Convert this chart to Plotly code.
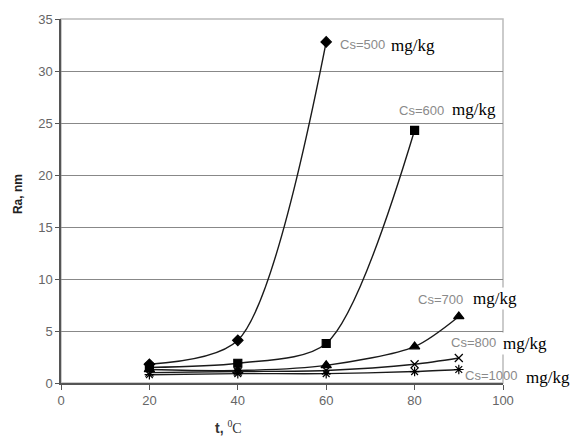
import plotly.graph_objects as go

t500 = [20, 40, 60]
ra500 = [1.8, 4.1, 32.8]
t600 = [20, 40, 60, 80]
ra600 = [1.5, 1.9, 3.8, 24.3]
t700 = [20, 40, 60, 80, 90]
ra700 = [1.3, 1.2, 1.7, 3.5, 6.4]
t800 = [20, 40, 60, 80, 90]
ra800 = [1.0, 1.1, 1.2, 1.8, 2.4]
t1000 = [20, 40, 60, 80, 90]
ra1000 = [0.8, 0.9, 0.9, 1.1, 1.3]

labels = ["Cs=500", "Cs=600", "Cs=700", "Cs=800", "Cs=1000"]
unit = "mg/kg"

series = [
    (t500, ra500, "diamond", 8),
    (t600, ra600, "square", 8),
    (t700, ra700, "triangle-up", 9),
    (t800, ra800, "x-thin-open", 8),
    (t1000, ra1000, "asterisk-open", 8),
]

fig = go.Figure()
for (x, y, sym, sz), name in zip(series, labels):
    fig.add_trace(go.Scatter(
        x=x, y=y, mode="lines+markers", name=name,
        line=dict(color="#1a1a1a", width=1.4, shape="spline", smoothing=0.8),
        marker=dict(symbol=sym, size=sz, color="#000000",
                    line=dict(color="#000000", width=1.2)),
        cliponaxis=False,
    ))

L, T, W, H = 61, 15, 442, 368


def px(xp):
    return (xp - L) / W


def py(yp):
    return (T + H - yp) / H


# label positions (left edge, vertical centre) in picture pixels
label_px = [(338, 41), (397, 107), (416, 299), (449, 342), (463, 375)]
unit_px = [(389, 42), (450, 106), (471, 298), (501, 343), (524, 377)]
for name, (lx, ly), (ux, uy) in zip(labels, label_px, unit_px):
    fig.add_annotation(x=px(ux), y=py(uy), xref="paper", yref="paper", text=unit,
                       showarrow=False, xanchor="left", yanchor="middle",
                       bgcolor="white", borderpad=1,
                       font=dict(family="Times New Roman, Liberation Serif, serif",
                                 size=17, color="#000000"))
    fig.add_annotation(x=px(lx), y=py(ly), xref="paper", yref="paper", text=name,
                       showarrow=False, xanchor="left", yanchor="middle",
                       font=dict(family="Arial, Liberation Sans, sans-serif",
                                 size=13, color="#8a8a8a"))

# axis titles
fig.add_annotation(x=px(228), y=py(427), xref="paper", yref="paper",
                   text="<b>t,</b> <span style='font-family:Liberation Serif'><sup>0</sup>C</span>",
                   showarrow=False, xanchor="center", yanchor="middle",
                   font=dict(family="Arial, Liberation Sans, sans-serif", size=14, color="#333333"))
fig.add_annotation(x=px(18), y=py(192), xref="paper", yref="paper",
                   text="<b>Ra, nm</b>", textangle=-90,
                   showarrow=False, xanchor="center", yanchor="middle",
                   font=dict(family="Arial, Liberation Sans, sans-serif", size=12, color="#222222"))

fig.update_layout(
    width=579, height=436,
    margin=dict(l=L, r=579 - L - W, t=T, b=436 - T - H),
    paper_bgcolor="white", plot_bgcolor="white",
    showlegend=False,
    font=dict(family="Arial, Liberation Sans, sans-serif", size=13, color="#666666"),
    xaxis=dict(
        range=[0, 100], tickvals=[0, 20, 40, 60, 80, 100],
        showgrid=False, zeroline=False,
        showline=True, linecolor="#555555", linewidth=1.5,
        ticks="outside", ticklen=5, tickcolor="#555555",
    ),
    yaxis=dict(
        range=[0, 35], tickvals=[0, 5, 10, 15, 20, 25, 30, 35],
        showgrid=True, gridcolor="#888888", gridwidth=1.3,
        zeroline=False,
        showline=True, linecolor="#555555", linewidth=1.5,
        ticks="outside", ticklen=4, tickcolor="#555555",
    ),
    shapes=[dict(type="rect", xref="paper", yref="paper", x0=0, y0=0, x1=1, y1=1,
                 line=dict(color="#bbbbbb", width=1.5), layer="below")],
)

fig.write_html("out.html")
